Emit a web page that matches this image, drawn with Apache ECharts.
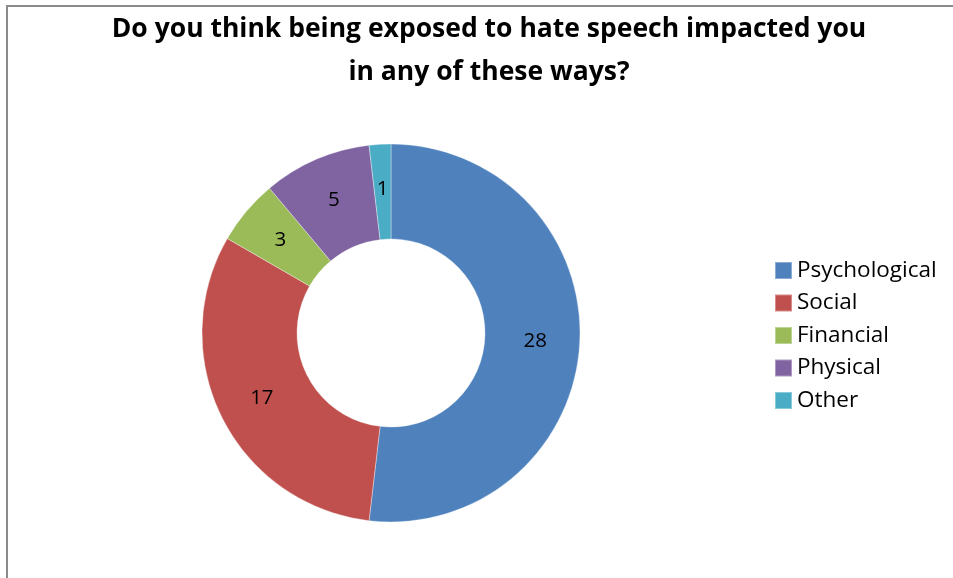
<!DOCTYPE html>
<html>
<head>
<meta charset="utf-8">
<script src="https://cdn.jsdelivr.net/npm/echarts@6/dist/echarts.min.js"></script>
<style>
  html, body { margin: 0; padding: 0; background: #fff; }
  #chart { width: 953px; height: 578px; }
</style>
</head>
<body>
<div id="chart"></div>
<script>
// Survey answers: ways respondents felt impacted by hate speech
const categories = ['Psychological', 'Social', 'Financial', 'Physical', 'Other'];
const counts = [28, 17, 3, 5, 1];
const palette = ['#4F81BD', '#C0504D', '#9BBB59', '#8064A2', '#4BACC6'];
const titleLines = ['Do you think being exposed to hate speech impacted you', 'in any of these ways?'];

const chart = echarts.init(document.getElementById('chart'), null, { renderer: 'canvas' });

const font = '"Open Sans", "Noto Sans", sans-serif';

chart.setOption({
  backgroundColor: '#ffffff',
  animation: false,
  title: {
    text: titleLines.join('\n'),
    left: 489,
    top: 8,
    padding: 0,
    textAlign: 'center',
    textStyle: {
      fontFamily: font,
      fontWeight: 'bold',
      fontSize: 26.5,
      lineHeight: 43,
      color: '#000000'
    }
  },
  legend: {
    orient: 'vertical',
    left: 774,
    top: 259,
    padding: 0,
    itemWidth: 17,
    itemHeight: 17,
    itemGap: 9.5,
    icon: 'rect',
    data: categories,
    textStyle: {
      fontFamily: font,
      fontSize: 22.5,
      color: '#000000'
    }
  },
  graphic: [{
    type: 'polyline',
    shape: { points: [[7, 600], [7, 6], [960, 6]] },
    style: { stroke: '#8a8a8a', lineWidth: 2, fill: null }
  }],
  series: [{
    type: 'pie',
    center: [391, 333],
    radius: [94, 189],
    startAngle: 90,
    clockwise: true,
    avoidLabelOverlap: false,
    color: palette,
    itemStyle: { borderColor: 'rgba(255,255,255,0.35)', borderWidth: 1 },
    label: {
      show: true,
      position: 'inside',
      formatter: '{c}',
      fontFamily: font,
      fontSize: 20.5,
      color: '#000000'
    },
    labelLine: { show: false },
    emphasis: { disabled: true },
    data: categories.map((name, i) => ({ name, value: counts[i] }))
  }]
});
</script>
</body>
</html>
